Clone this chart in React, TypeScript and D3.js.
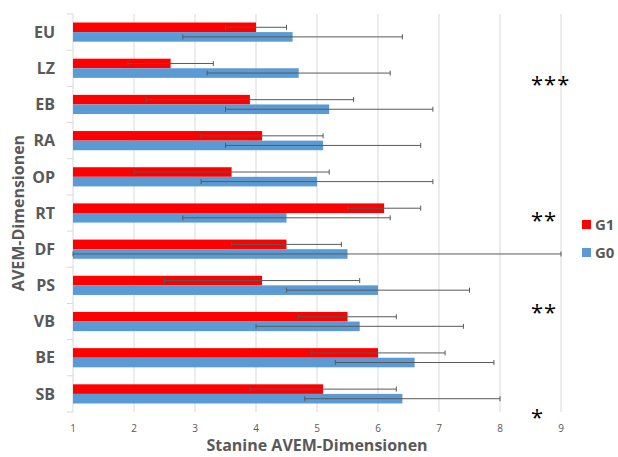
import React from 'react';
import * as d3 from 'd3';

// AVEM dimensions, top to bottom
const categories = ['EU', 'LZ', 'EB', 'RA', 'OP', 'RT', 'DF', 'PS', 'VB', 'BE', 'SB'];

// G1 (red)
const g1Mean = [4.0, 2.6, 3.9, 4.1, 3.6, 6.1, 4.5, 4.1, 5.5, 6.0, 5.1];
const g1Low = [3.5, 1.9, 2.2, 3.1, 2.0, 5.5, 3.6, 2.5, 4.7, 4.9, 3.9];
const g1High = [4.5, 3.3, 5.6, 5.1, 5.2, 6.7, 5.4, 5.7, 6.3, 7.1, 6.3];

// G0 (blue)
const g0Mean = [4.6, 4.7, 5.2, 5.1, 5.0, 4.5, 5.5, 6.0, 5.7, 6.6, 6.4];
const g0Low = [2.8, 3.2, 3.5, 3.5, 3.1, 2.8, 1.0, 4.5, 4.0, 5.3, 4.8];
const g0High = [6.4, 6.2, 6.9, 6.7, 6.9, 6.2, 9.0, 7.5, 7.4, 7.9, 8.0];

const xTicks = [1, 2, 3, 4, 5, 6, 7, 8, 9];

// significance markers: category, stars, and a nudge (in bands) below that category's centre
const sigCats = ['LZ', 'RT', 'PS', 'SB'];
const sigStars = ['***', '**', '**', '*'];
const sigNudge = [0.33, 0.08, 0.63, 0.52];

const series = [
  { name: 'G1', color: '#FF0000', mean: g1Mean, low: g1Low, high: g1High },
  { name: 'G0', color: '#5B9BD5', mean: g0Mean, low: g0Low, high: g0High },
];

const W = 618;
const H = 457;
const margin = { top: 14, right: 57, bottom: 45, left: 73 };

export default function App() {
  const x = d3.scaleLinear().domain([1, 9]).range([margin.left, W - margin.right]);
  const y = d3.scaleBand<string>()
    .domain(categories)
    .range([margin.top, H - margin.bottom])
    .paddingInner(0.47)
    .paddingOuter(0.235);
  const sub = d3.scaleBand<string>().domain(series.map(s => s.name)).range([0, y.bandwidth()]);
  const step = y.step();
  const font = '"Open Sans", "DejaVu Sans", sans-serif';
  const grey = '#595959';

  return (
    <svg width={W} height={H} style={{ position: 'absolute', left: 0, top: 0 }} fontFamily={font}>
      <rect width={W} height={H} fill="#fff" />
      {/* grid */}
      {xTicks.map(t => (
        <line key={t} x1={x(t)} x2={x(t)} y1={margin.top} y2={H - margin.bottom} stroke="#d9d9d9" strokeWidth={1} />
      ))}
      {/* category boundary ticks on y axis */}
      {d3.range(categories.length + 1).map(i => (
        <line key={i} x1={margin.left - 6} x2={margin.left}
          y1={margin.top + i * step} y2={margin.top + i * step} stroke="#d9d9d9" />
      ))}
      {/* bars */}
      {series.map(s => categories.map((c, i) => {
        const y0 = (y(c) ?? 0) + (sub(s.name) ?? 0);
        return (
          <rect key={s.name + c} x={x(1)} y={y0} width={x(s.mean[i]) - x(1)} height={sub.bandwidth()} fill={s.color} />
        );
      }))}
      {/* error bars */}
      {series.map(s => categories.map((c, i) => {
        const cy = (y(c) ?? 0) + (sub(s.name) ?? 0) + sub.bandwidth() / 2;
        return (
          <g key={'e' + s.name + c} stroke={grey} strokeWidth={1}>
            <line x1={x(s.low[i])} x2={x(s.high[i])} y1={cy} y2={cy} />
            <line x1={x(s.low[i])} x2={x(s.low[i])} y1={cy - 2.5} y2={cy + 2.5} />
            <line x1={x(s.high[i])} x2={x(s.high[i])} y1={cy - 2.5} y2={cy + 2.5} />
          </g>
        );
      }))}
      {/* category labels */}
      {categories.map(c => (
        <text key={'l' + c} x={55} y={(y(c) ?? 0) + y.bandwidth() / 2} dy="0.36em" textAnchor="end"
          fontSize={16} fontWeight="bold" fill={grey}>{c}</text>
      ))}
      {/* x tick labels */}
      {xTicks.map(t => (
        <text key={'t' + t} x={x(t)} y={432} textAnchor="middle" fontSize={10} fill={grey}>{t}</text>
      ))}
      {/* significance */}
      {sigCats.map((c, i) => (
        <text key={'s' + c} x={531} y={(y(c) ?? 0) + y.bandwidth() / 2 + sigNudge[i] * step + 12}
          fontSize={22} fill="#000" letterSpacing={1}>{sigStars[i]}</text>
      ))}
      {/* axis titles */}
      <text x={(x(1) + x(9)) / 2} y={451} textAnchor="middle" fontSize={16} fontWeight="bold" fill={grey}>
        Stanine AVEM-Dimensionen
      </text>
      <text transform={`translate(24,${(margin.top + H - margin.bottom) / 2}) rotate(-90)`} textAnchor="middle"
        fontSize={16} fontWeight="bold" fill={grey}>AVEM-Dimensionen</text>
      {/* legend */}
      {series.map((s, i) => (
        <g key={'lg' + s.name} transform={`translate(582,${220 + i * 28})`}>
          <rect x={0} y={0} width={9} height={9} fill={s.color} />
          <text x={13} y={4.5} dy="0.36em" fontSize={15} fontWeight="bold" fill={grey}>{s.name}</text>
        </g>
      ))}
    </svg>
  );
}
